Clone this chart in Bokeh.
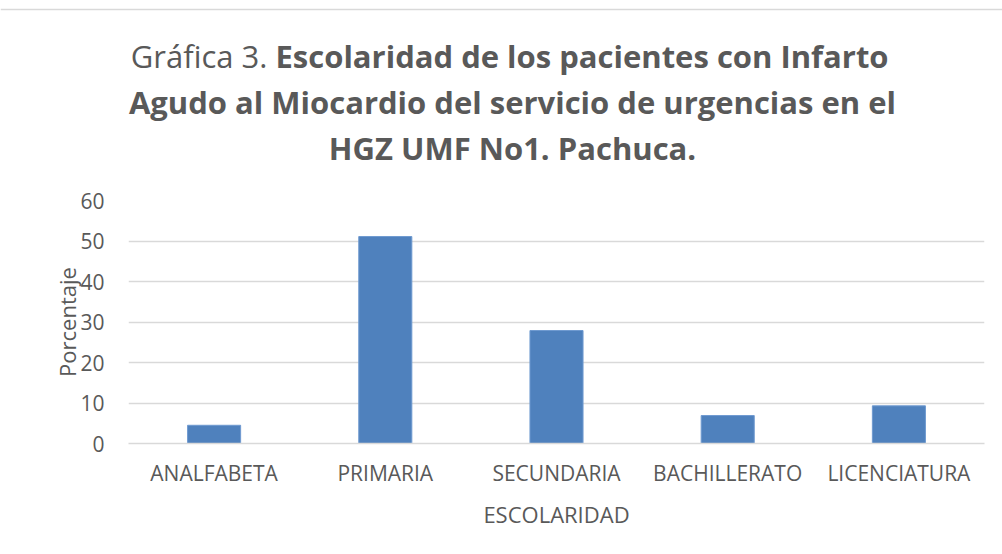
from bokeh.plotting import figure
from bokeh.models import Label, Range1d, FactorRange, Span
from bokeh.layouts import column, row
from bokeh.embed import file_html
from bokeh.resources import INLINE

categories = ["ANALFABETA", "PRIMARIA", "SECUNDARIA", "BACHILLERATO", "LICENCIATURA"]
porcentaje = [4.5, 51.1, 27.9, 6.9, 9.3]
y_ticks = [0, 10, 20, 30, 40, 50, 60]

FONT = "Open Sans"
TXT = "#595959"
BORDER = "#d9d9d9"
W, H = 1002, 554
TOP_H = 170          # height of the title band
STRIP_W = 6          # narrow blank strip left of the chart
CW = W - STRIP_W

def blank(width, height, xr, yr):
    f = figure(width=width, height=height, x_range=xr, y_range=yr,
               x_axis_type=None, y_axis_type=None, min_border=0,
               output_backend="svg", toolbar_location=None)
    f.outline_line_color = None
    f.grid.grid_line_color = None
    f.background_fill_color = "white"
    f.border_fill_color = "white"
    return f

# ---- title band (page pixel coordinates; its frame covers the whole band)
top = blank(W, TOP_H, Range1d(0, W), Range1d(TOP_H, 0))
top.add_layout(Span(location=9, dimension="width", line_color=BORDER, line_width=1.5))

def lab(text, x, y, bold=False, align="center"):
    top.add_layout(Label(x=x, y=y, text=text,
                         text_font=FONT, text_font_size="31px", text_color=TXT,
                         text_font_style="bold" if bold else "normal",
                         text_align=align, text_baseline="alphabetic"))

split = 275
lab("Gráfica 3. ", split, 55, align="right")
lab("Escolaridad de los pacientes con Infarto", split, 55, bold=True, align="left")
lab("Agudo al Miocardio del servicio de urgencias en el", 512, 101, bold=True)
lab("HGZ UMF No1. Pachuca.", 512, 147, bold=True)

strip = blank(STRIP_W, H - TOP_H, Range1d(0, STRIP_W), Range1d(0, H - TOP_H))

# ---- bar chart
FL, FR, FT, FB = 128, 984, 200, 443   # frame edges in page pixels
p = figure(width=CW, height=H - TOP_H, x_range=FactorRange(*categories), y_range=Range1d(0, 60),
           output_backend="svg", toolbar_location=None,
           min_border_left=FL - STRIP_W, min_border_right=W - FR,
           min_border_top=FT - TOP_H, min_border_bottom=H - FB)
p.outline_line_color = None
p.background_fill_color = "white"
p.border_fill_color = "white"

p.vbar(x=categories, top=porcentaje, width=0.31, fill_color="#4F81BD", line_color="#6F9AD0", line_width=1)

p.yaxis.ticker = y_ticks
p.ygrid.grid_line_color = BORDER
p.ygrid.grid_line_width = 1.5
p.xgrid.grid_line_color = None

for ax in (p.xaxis[0], p.yaxis[0]):
    ax.major_tick_line_color = None
    ax.minor_tick_line_color = None
    ax.major_label_text_font = FONT
    ax.major_label_text_font_size = "21px"
    ax.major_label_text_color = TXT
    ax.axis_label_text_font = FONT
    ax.axis_label_text_font_size = "22px"
    ax.axis_label_text_color = TXT
    ax.axis_label_text_font_style = "normal"

p.yaxis.axis_line_color = None
p.xaxis.axis_line_color = BORDER
p.xaxis.axis_line_width = 1.5
p.yaxis.axis_label = "Porcentaje"
p.xaxis.axis_label = "ESCOLARIDAD"
p.yaxis.major_label_standoff = 18
p.yaxis.axis_label_standoff = -5
p.xaxis.major_label_standoff = 9
p.xaxis.axis_label_standoff = 9

layout = column(top, row(strip, p, spacing=0), spacing=0)
open("out.html", "w").write(file_html(layout, INLINE))
